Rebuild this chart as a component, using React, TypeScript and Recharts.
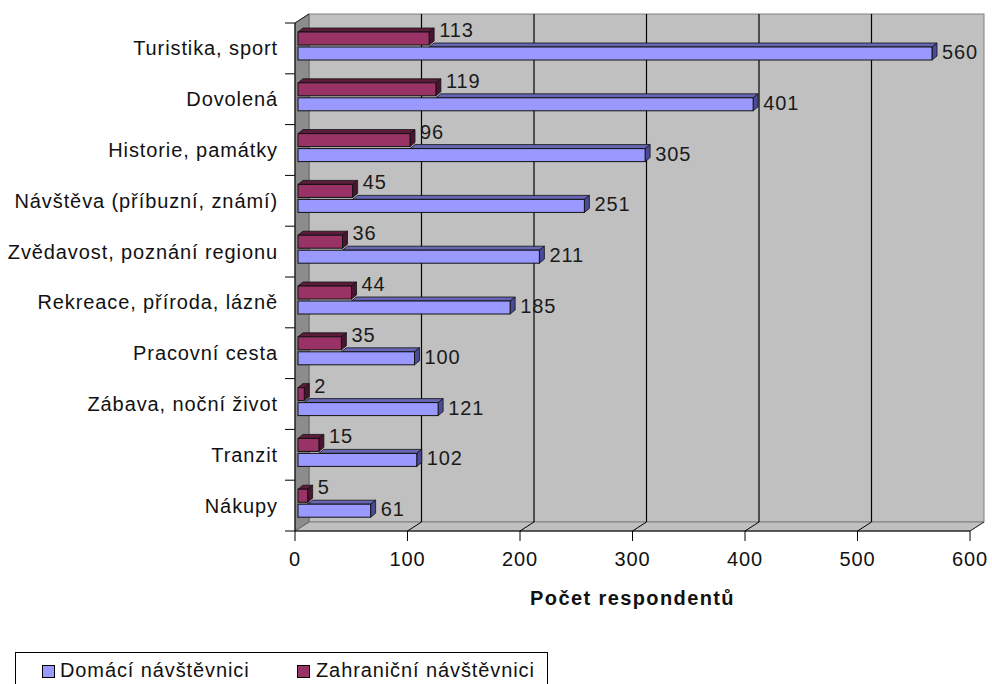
import React from 'react';
import {
  BarChart,
  Bar,
  XAxis,
  YAxis,
  CartesianGrid,
  ReferenceArea,
  ReferenceLine,
  LabelList,
} from 'recharts';

// ---- data ----
const categories = [
  'Turistika, sport',
  'Dovolená',
  'Historie, památky',
  'Návštěva (příbuzní, známí)',
  'Zvědavost, poznání regionu',
  'Rekreace, příroda, lázně',
  'Pracovní cesta',
  'Zábava, noční život',
  'Tranzit',
  'Nákupy',
];
const domaci = [560, 401, 305, 251, 211, 185, 100, 121, 102, 61];
const zahranicni = [113, 119, 96, 45, 36, 44, 35, 2, 15, 5];
const xTicks = [0, 100, 200, 300, 400, 500, 600];
const gridValues = [100, 200, 300, 400, 500];
const seriesNames = ['Domácí návštěvnici', 'Zahraniční návštěvnici'];
const axisTitle = 'Počet respondentů';

const data = categories.map((name, i) => ({
  name,
  domaci: domaci[i],
  zahranicni: zahranicni[i],
}));

// ---- styling ----
const FONT = '"Liberation Sans", Arial, sans-serif';
const BLUE = '#9999ff';
const BLUE_TOP = '#6666b4';
const BLUE_SIDE = '#4a4a96';
const RED = '#993366';
const RED_TOP = '#5e1c3c';
const RED_SIDE = '#4a1530';
const WALL_DX = 14;
const WALL_DY = 9;
const BAR_DX = 5;
const BAR_DY = 4;
const LIFT = 2;
// bars sit in the middle of the 3D depth: start slightly inside, end shifted right
const START_SHIFT = 3;
const END_SHIFT = 7;

const Walls = (p: any) => {
  const { x, y, width: w, height: h } = p;
  const L = x, T = y, R = x + w, B = y + h;
  return (
    <g>
      <rect x={L + WALL_DX} y={T - WALL_DY} width={w} height={h} fill="#c0c0c0" stroke="#808080" />
      <polygon
        points={`${L},${B} ${L + WALL_DX},${B - WALL_DY} ${R + WALL_DX},${B - WALL_DY} ${R},${B}`}
        fill="#c0c0c0"
        stroke="#808080"
      />
      <polygon
        points={`${L},${T} ${L + WALL_DX},${T - WALL_DY} ${L + WALL_DX},${B - WALL_DY} ${L},${B}`}
        fill="#8c8c8c"
        stroke="#666"
      />
      <line x1={L} y1={T} x2={L + WALL_DX} y2={T - WALL_DY} stroke="#222" />
      <line x1={R} y1={B} x2={R + WALL_DX} y2={B - WALL_DY} stroke="#333" />
    </g>
  );
};

const GridLine3D = (p: any) => {
  const x = p.x1;
  const yTop = Math.min(p.y1, p.y2);
  const yBot = Math.max(p.y1, p.y2);
  return (
    <g>
      <line x1={x + WALL_DX} y1={yTop - WALL_DY} x2={x + WALL_DX} y2={yBot - WALL_DY} stroke="#000" strokeWidth={1.2} />
      <line x1={x} y1={yBot} x2={x + WALL_DX} y2={yBot - WALL_DY} stroke="#000" />
    </g>
  );
};

const makeBar = (front: string, topC: string, sideC: string, isBlue: boolean) => (p: any) => {
  const w0 = Math.max(p.width, 0);
  const x = p.x + START_SHIFT;
  const xe = p.x + w0 + END_SHIFT;
  const w = xe - x;
  const h = p.height;
  const y = p.y - LIFT;
  let sx = x;
  if (isBlue && p.payload && p.payload.domaci > 0) {
    sx = p.x + (w0 * p.payload.zahranicni) / p.payload.domaci + END_SHIFT;
  }
  return (
    <g>
      <polygon
        points={`${sx},${y} ${sx + BAR_DX},${y - BAR_DY} ${xe + BAR_DX},${y - BAR_DY} ${xe},${y}`}
        fill={topC}
        stroke="#111"
        strokeWidth={0.8}
      />
      <polygon
        points={`${xe},${y} ${xe + BAR_DX},${y - BAR_DY} ${xe + BAR_DX},${y + h - BAR_DY} ${xe},${y + h}`}
        fill={sideC}
        stroke="#111"
        strokeWidth={0.8}
      />
      <rect x={x} y={y} width={w} height={h} fill={front} stroke="#111" strokeWidth={1} />
    </g>
  );
};

const RedBar = makeBar(RED, RED_TOP, RED_SIDE, false);
const BlueBar = makeBar(BLUE, BLUE_TOP, BLUE_SIDE, true);

const vbOf = (p: any) => {
  const vb = p.viewBox || {};
  return {
    x: p.x ?? vb.x,
    y: p.y ?? vb.y,
    width: p.width ?? vb.width,
    height: p.height ?? vb.height,
  };
};

const RedLabel = (p: any) => {
  const { x, y, width } = vbOf(p);
  return (
    <text
      x={x + width + END_SHIFT + BAR_DX + 5}
      y={y - LIFT - 2}
      dominantBaseline="central"
      fontFamily={FONT}
      fontSize={20}
      fill="#1a1a1a"
      style={{ letterSpacing: '0.9px' }}
    >
      {p.value}
    </text>
  );
};

const BlueLabel = (p: any) => {
  const { x, y, width, height } = vbOf(p);
  return (
    <text
      x={x + width + END_SHIFT + BAR_DX + 5}
      y={y - LIFT + height / 2 - 1.5}
      dominantBaseline="central"
      fontFamily={FONT}
      fontSize={20}
      fill="#1a1a1a"
      style={{ letterSpacing: '0.9px' }}
    >
      {p.value}
    </text>
  );
};

const YTick = (p: any) => (
  <text
    x={p.x}
    y={p.y}
    textAnchor="end"
    dominantBaseline="central"
    fontFamily={FONT}
    fontSize={20}
    fill="#111"
    style={{ letterSpacing: '0.9px' }}
  >
    {p.payload.value}
  </text>
);

const XTick = (p: any) => (
  <text
    x={p.x}
    y={p.y}
    dy="0.71em"
    textAnchor="middle"
    fontFamily={FONT}
    fontSize={20}
    fill="#111"
    style={{ letterSpacing: '0.9px' }}
  >
    {p.payload.value}
  </text>
);

export default function App() {
  const n = categories.length;
  return (
    <div
      style={{
        position: 'absolute',
        left: 0,
        top: 0,
        width: 992,
        height: 684,
        overflow: 'hidden',
        background: '#fff',
      }}
    >
      <BarChart
        width={992}
        height={684}
        data={data}
        layout="vertical"
        margin={{ top: 23, right: 22, bottom: 78, left: 0 }}
        barSize={13}
        barGap={2}
      >
        <CartesianGrid
          vertical={false}
          horizontal={(p: any) => (
            <line key={p.key} x1={p.x1 - 10} x2={p.x1} y1={p.y1} y2={p.y1} stroke="#000" />
          )}
          horizontalCoordinatesGenerator={(args: any) => {
            const off = args && args.offset ? args.offset : { top: 23, height: 508 };
            return Array.from({ length: n + 1 }, (_, i) => off.top + (i * off.height) / n);
          }}
        />
        <ReferenceArea x1={0} x2={600} shape={Walls} zIndex={100} />
        {gridValues.map((v) => (
          <ReferenceLine key={v} x={v} shape={GridLine3D} zIndex={150} />
        ))}
        <XAxis
          type="number"
          domain={[0, 600]}
          ticks={xTicks}
          interval={0}
          height={75}
          tickSize={10}
          tickMargin={11}
          axisLine={{ stroke: '#000' }}
          tickLine={{ stroke: '#000' }}
          tick={XTick}
          label={{
            value: axisTitle,
            position: 'insideBottom',
            offset: 1,
            fontSize: 20,
            fontWeight: 'bold',
            fill: '#111',
            fontFamily: FONT,
            style: { letterSpacing: '1.4px' },
          }}
        />
        <YAxis
          type="category"
          dataKey="name"
          width={295}
          interval={0}
          tickSize={8}
          tickMargin={9}
          tickLine={false}
          axisLine={{ stroke: '#000' }}
          tick={YTick}
        />
        <Bar dataKey="zahranicni" name={seriesNames[1]} fill={RED} shape={RedBar} isAnimationActive={false}>
          <LabelList dataKey="zahranicni" content={RedLabel} />
        </Bar>
        <Bar dataKey="domaci" name={seriesNames[0]} fill={BLUE} shape={BlueBar} isAnimationActive={false}>
          <LabelList dataKey="domaci" content={BlueLabel} />
        </Bar>
      </BarChart>
      <div
        style={{
          position: 'absolute',
          left: 15,
          top: 652,
          width: 533,
          height: 60,
          border: '1px solid #000',
          boxSizing: 'border-box',
          fontFamily: FONT,
          fontSize: 20,
          color: '#111',
          letterSpacing: '0.9px',
          background: '#fff',
        }}
      >
        <span
          style={{
            position: 'absolute',
            left: 26,
            top: 12,
            width: 11,
            height: 11,
            background: BLUE,
            border: '1px solid #000',
          }}
        />
        <span style={{ position: 'absolute', left: 44, top: 6, lineHeight: '23px', whiteSpace: 'nowrap' }}>
          {seriesNames[0]}
        </span>
        <span
          style={{
            position: 'absolute',
            left: 281,
            top: 12,
            width: 11,
            height: 11,
            background: RED,
            border: '1px solid #000',
          }}
        />
        <span style={{ position: 'absolute', left: 300, top: 6, lineHeight: '23px', whiteSpace: 'nowrap' }}>
          {seriesNames[1]}
        </span>
      </div>
    </div>
  );
}
